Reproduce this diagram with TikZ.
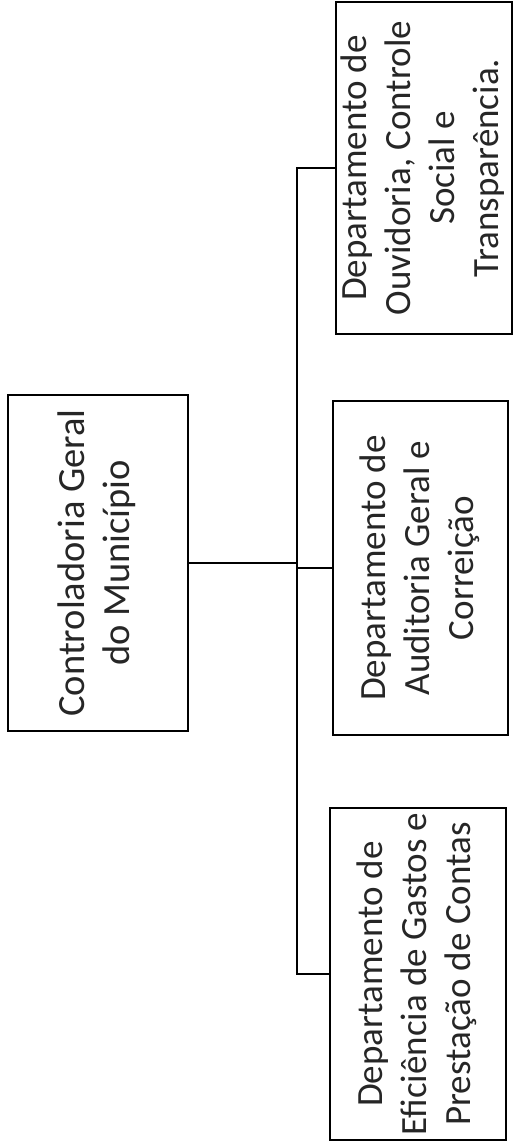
\documentclass[tikz,border=0pt]{standalone}
\usepackage{fontspec}
\setmainfont{Carlito}
\usepackage{graphicx}
\begin{document}
\begin{tikzpicture}[x=1pt,y=-1pt,
  box/.style={draw=black, line width=2.2pt, inner sep=0pt, font=\fontsize{37}{44}\selectfont, text=black!85},
  link/.style={draw=black, line width=2.2pt, line cap=rect}]
\useasboundingbox (0,0) rectangle (512,1147);
\node[box, font=\fontsize{38.5}{45}\selectfont, minimum width=180pt, minimum height=336pt] (ctrl) at (98,563)
  {\rotatebox{90}{\begin{tabular}{@{}c@{}}Controladoria Geral\\do Município\end{tabular}}};
\node[box, minimum width=172pt, minimum height=332pt] (ouv) at (424,168)
  {\rotatebox{90}{\begin{tabular}{@{}c@{}}Departamento de\\Ouvidoria, Controle\\Social e\\Transparência.\end{tabular}}};
\node[box, minimum width=175pt, minimum height=334pt] (aud) at (420.5,568)
  {\rotatebox{90}{\begin{tabular}{@{}c@{}}Departamento de\\Auditoria Geral e\\Correição\end{tabular}}};
\node[box, minimum width=176pt, minimum height=332pt] (efi) at (418,974)
  {\rotatebox{90}{\begin{tabular}{@{}c@{}}Departamento de\\Eficiência de Gastos e\\Prestação de Contas\end{tabular}}};
\coordinate (tx) at (297,0);
\draw[link] (ctrl.east) -- (ctrl.east -| tx);
\draw[link, line join=miter] (ouv.west) -- (ouv.west -| tx) -- (efi.west -| tx) -- (efi.west);
\draw[link] (aud.west -| tx) -- (aud.west);
\end{tikzpicture}
\end{document}
